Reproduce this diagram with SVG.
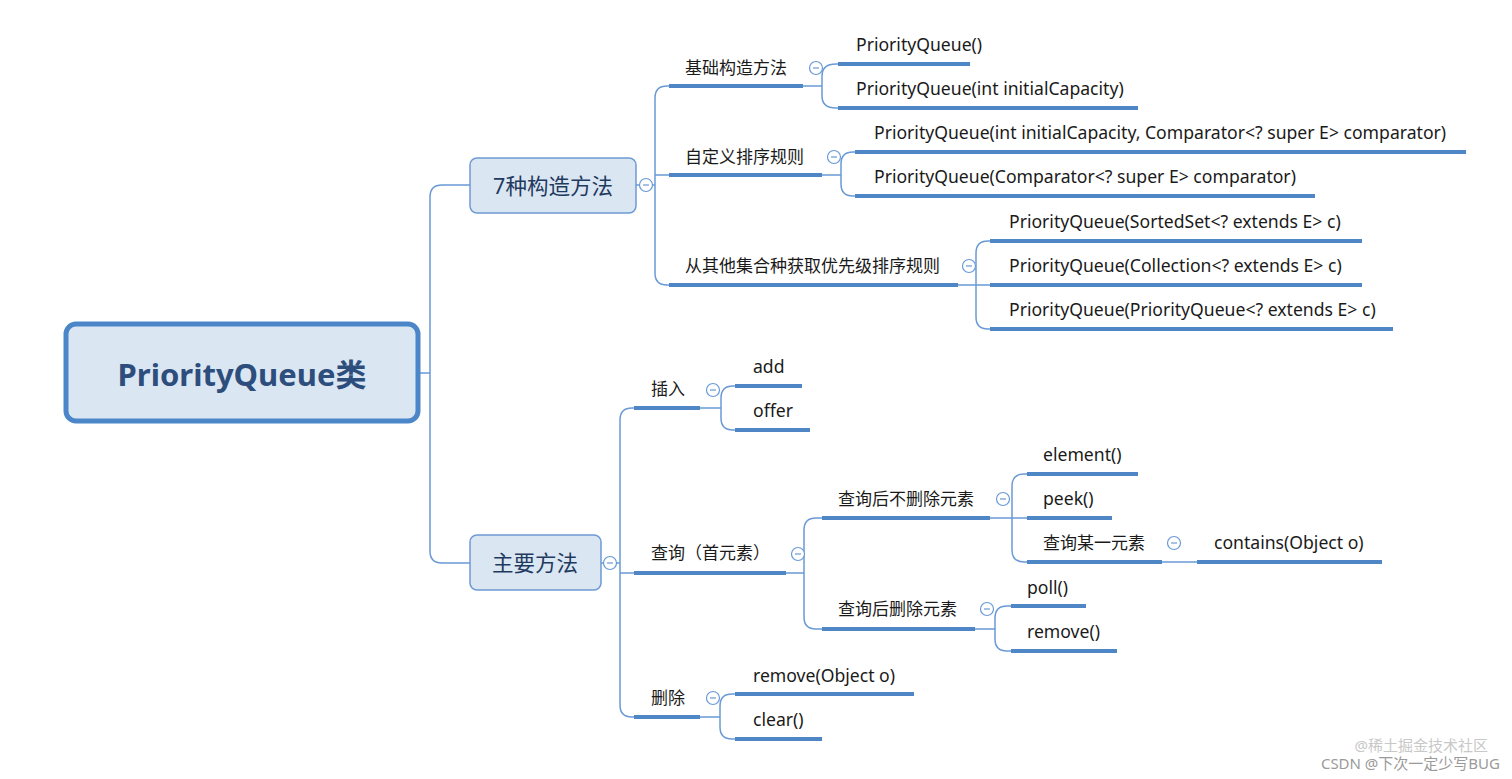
<svg xmlns="http://www.w3.org/2000/svg" width="1512" height="779" viewBox="0 0 1512 779">
<style>
text{font-family:"Noto Sans","Noto Sans CJK SC",sans-serif;fill:#1a1a1a;font-size:17px}
.e{font-size:17.6px}
.c{fill:none;stroke:#6a9ad6;stroke-width:1.5}
.u{stroke:#4f86c6;stroke-width:4}
.b{fill:#dbe6f3;stroke:#6d9bd3;stroke-width:1.5}
.t{fill:#1f3a5f;font-size:21.5px}
.k circle{fill:#fff;stroke:#6a9ad6;stroke-width:1.2}
.k path{stroke:#6a9ad6;stroke-width:1.2}
</style>
<rect width="1512" height="779" fill="#fff"/>
<g id="connectors">
<path class="c" d="M418 373 H430 M430 373 V197 Q430 185 442 185 H470 M430 373 V551 Q430 563 442 563 H470"/>
<path class="c" d="M636 185 H655 M655 185 V98 Q655 86 667 86 H669 M655 185 V273 Q655 285 667 285 H669 M655 175 H669"/>
<path class="c" d="M803 86 H822 M822 86 V76 Q822 64 836 64 H838 M822 86 V96 Q822 108 836 108 H838"/>
<path class="c" d="M822 175 H841 M841 175 V164 Q841 152 853 152 H855 M841 175 V184 Q841 196 853 196 H855"/>
<path class="c" d="M958 285 H976 M976 285 V253 Q976 241 988 241 H990 M976 285 V317 Q976 329 988 329 H990 M976 285 H990"/>
<path class="c" d="M601 563 H620 M620 563 V420 Q620 408 632 408 H634 M620 563 V705 Q620 717 632 717 H634 M620 573 H634"/>
<path class="c" d="M700 408 H721 M721 408 V398 Q721 386 733 386 H735 M721 408 V418 Q721 430 733 430 H735"/>
<path class="c" d="M786 573 H804 M804 573 V530 Q804 518 816 518 H822 M804 573 V617 Q804 629 816 629 H822"/>
<path class="c" d="M990 518 H1012 M1012 518 V486 Q1012 474 1024 474 H1027 M1012 518 V550 Q1012 562 1024 562 H1027 M1012 518 H1027"/>
<path class="c" d="M1162 562 H1197"/>
<path class="c" d="M975 629 H995 M995 629 V618 Q995 606 1007 606 H1011 M995 629 V639 Q995 651 1007 651 H1011"/>
<path class="c" d="M700 717 H720 M720 717 V706 Q720 694 732 694 H735 M720 717 V727 Q720 739 732 739 H735"/>
</g>
<g id="root"><rect x="66" y="324" width="352" height="97" rx="10" fill="#dbe6f3" stroke="#4a86c8" stroke-width="5"/><text x="242" y="386" text-anchor="middle" style="font-size:31px;font-weight:bold;fill:#2d4e7c">PriorityQueue类</text></g>
<g id="n7"><rect class="b" x="470" y="158" width="166" height="55" rx="7"/><text class="t" x="553" y="194" text-anchor="middle">7种构造方法</text></g>
<g id="nmain"><rect class="b" x="470" y="535" width="131" height="55" rx="7"/><text class="t" x="535" y="571" text-anchor="middle">主要方法</text></g>
<g class="k">
<circle cx="646" cy="185" r="6.5"/><path d="M643 185h6"/>
<circle cx="610" cy="563" r="6.5"/><path d="M607 563h6"/>
<circle cx="816" cy="68" r="6.5"/><path d="M813 68h6"/>
<circle cx="834" cy="157" r="6.5"/><path d="M831 157h6"/>
<circle cx="969" cy="266" r="6.5"/><path d="M966 266h6"/>
<circle cx="713" cy="390" r="6.5"/><path d="M710 390h6"/>
<circle cx="798" cy="554" r="6.5"/><path d="M795 554h6"/>
<circle cx="713" cy="698" r="6.5"/><path d="M710 698h6"/>
<circle cx="1003" cy="499" r="6.5"/><path d="M1000 499h6"/>
<circle cx="987" cy="609" r="6.5"/><path d="M984 609h6"/>
<circle cx="1174" cy="543" r="6.5"/><path d="M1171 543h6"/>
</g>
<g id="l1"><path class="u" d="M669 86H803"/><text x="685" y="74">基础构造方法</text></g>
<g id="l2"><path class="u" d="M669 175H822"/><text x="685" y="163">自定义排序规则</text></g>
<g id="l3"><path class="u" d="M669 285H958"/><text x="685" y="272">从其他集合种获取优先级排序规则</text></g>
<g id="a1"><path class="u" d="M838 64H970"/><text class="e" x="856" y="51">PriorityQueue()</text></g>
<g id="a2"><path class="u" d="M838 108H1138"/><text class="e" x="856" y="95">PriorityQueue(int initialCapacity)</text></g>
<g id="b1"><path class="u" d="M855 152H1466"/><text class="e" x="874" y="139">PriorityQueue(int initialCapacity, Comparator&lt;? super E&gt; comparator)</text></g>
<g id="b2"><path class="u" d="M855 196H1315"/><text class="e" x="874" y="183">PriorityQueue(Comparator&lt;? super E&gt; comparator)</text></g>
<g id="c1"><path class="u" d="M990 241H1362"/><text class="e" x="1009" y="228">PriorityQueue(SortedSet&lt;? extends E&gt; c)</text></g>
<g id="c2"><path class="u" d="M990 285H1362"/><text class="e" x="1009" y="272">PriorityQueue(Collection&lt;? extends E&gt; c)</text></g>
<g id="c3"><path class="u" d="M990 329H1393"/><text class="e" x="1009" y="316">PriorityQueue(PriorityQueue&lt;? extends E&gt; c)</text></g>
<g id="m1"><path class="u" d="M634 408H700"/><text x="651" y="395">插入</text></g>
<g id="m2"><path class="u" d="M634 573H786"/><text x="651" y="559">查询（首元素）</text></g>
<g id="m3"><path class="u" d="M634 717H700"/><text x="651" y="704">删除</text></g>
<g id="i1"><path class="u" d="M735 386H802"/><text class="e" x="753" y="373">add</text></g>
<g id="i2"><path class="u" d="M735 430H810"/><text class="e" x="753" y="417">offer</text></g>
<g id="q1"><path class="u" d="M822 518H990"/><text x="838" y="505">查询后不删除元素</text></g>
<g id="q2"><path class="u" d="M822 629H975"/><text x="838" y="615">查询后删除元素</text></g>
<g id="e1"><path class="u" d="M1027 474H1138"/><text class="e" x="1043" y="461">element()</text></g>
<g id="e2"><path class="u" d="M1027 518H1112"/><text class="e" x="1043" y="505">peek()</text></g>
<g id="e3"><path class="u" d="M1027 562H1162"/><text x="1043" y="549">查询某一元素</text></g>
<g id="e4"><path class="u" d="M1197 562H1382"/><text class="e" x="1214" y="549">contains(Object o)</text></g>
<g id="p1"><path class="u" d="M1011 606H1086"/><text class="e" x="1027" y="594">poll()</text></g>
<g id="p2"><path class="u" d="M1011 651H1117"/><text class="e" x="1027" y="638">remove()</text></g>
<g id="d1"><path class="u" d="M735 694H914"/><text class="e" x="753" y="682">remove(Object o)</text></g>
<g id="d2"><path class="u" d="M735 739H822"/><text class="e" x="753" y="726">clear()</text></g>
<text x="1488" y="751" text-anchor="end" style="font-size:15px;fill:#c8c8c8">@稀土掘金技术社区</text>
<text x="1500" y="769" text-anchor="end" style="font-size:15px;fill:#9a9a9a">CSDN @下次一定少写BUG</text>
</svg>
